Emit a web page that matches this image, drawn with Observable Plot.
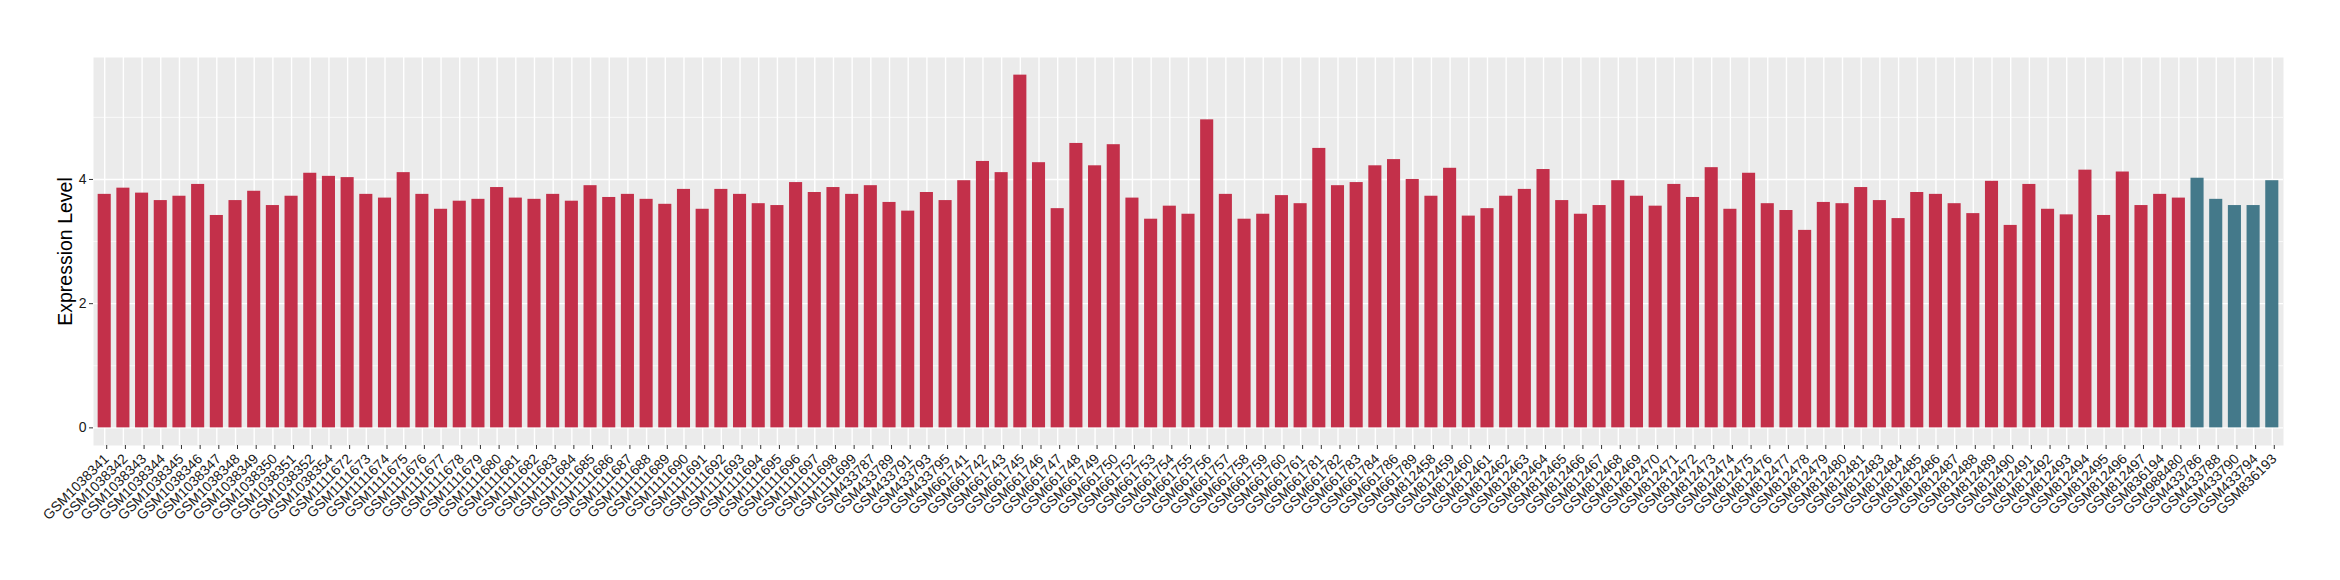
<!DOCTYPE html>
<html>
<head>
<meta charset="utf-8">
<script src="https://cdn.jsdelivr.net/npm/d3@7"></script>
<script src="https://cdn.jsdelivr.net/npm/@observablehq/plot@0.6"></script>
<style>
  html, body { margin: 0; padding: 0; background: #ffffff; }
  #chart { width: 2340px; height: 580px; }
  svg { display: block; }
</style>
</head>
<body>
<div id="chart"></div>
<script>
const samples = [
  "GSM1038341","GSM1038342","GSM1038343","GSM1038344","GSM1038345","GSM1038346","GSM1038347","GSM1038348","GSM1038349","GSM1038350",
  "GSM1038351","GSM1038352","GSM1038354","GSM1111672","GSM1111673","GSM1111674","GSM1111675","GSM1111676","GSM1111677","GSM1111678",
  "GSM1111679","GSM1111680","GSM1111681","GSM1111682","GSM1111683","GSM1111684","GSM1111685","GSM1111686","GSM1111687","GSM1111688",
  "GSM1111689","GSM1111690","GSM1111691","GSM1111692","GSM1111693","GSM1111694","GSM1111695","GSM1111696","GSM1111697","GSM1111698",
  "GSM1111699","GSM433787","GSM433789","GSM433791","GSM433793","GSM433795","GSM661741","GSM661742","GSM661743","GSM661745",
  "GSM661746","GSM661747","GSM661748","GSM661749","GSM661750","GSM661752","GSM661753","GSM661754","GSM661755","GSM661756",
  "GSM661757","GSM661758","GSM661759","GSM661760","GSM661761","GSM661781","GSM661782","GSM661783","GSM661784","GSM661786",
  "GSM661789","GSM812458","GSM812459","GSM812460","GSM812461","GSM812462","GSM812463","GSM812464","GSM812465","GSM812466",
  "GSM812467","GSM812468","GSM812469","GSM812470","GSM812471","GSM812472","GSM812473","GSM812474","GSM812475","GSM812476",
  "GSM812477","GSM812478","GSM812479","GSM812480","GSM812481","GSM812483","GSM812484","GSM812485","GSM812486","GSM812487",
  "GSM812488","GSM812489","GSM812490","GSM812491","GSM812492","GSM812493","GSM812494","GSM812495","GSM812496","GSM812497",
  "GSM836194","GSM988480","GSM433786","GSM433788","GSM433790","GSM433794","GSM836193"
];

const expression = [
  3.76,3.86,3.78,3.66,3.73,3.92,3.42,3.66,3.81,3.58,
  3.73,4.10,4.05,4.03,3.76,3.70,4.11,3.76,3.52,3.65,
  3.68,3.87,3.70,3.68,3.76,3.65,3.90,3.71,3.76,3.68,
  3.60,3.84,3.52,3.84,3.76,3.61,3.58,3.95,3.79,3.87,
  3.76,3.90,3.63,3.49,3.79,3.66,3.98,4.29,4.11,5.68,
  4.27,3.53,4.58,4.22,4.56,3.70,3.36,3.57,3.44,4.96,
  3.76,3.36,3.44,3.74,3.61,4.50,3.90,3.95,4.22,4.32,
  4.00,3.73,4.18,3.41,3.53,3.73,3.84,4.16,3.66,3.44,
  3.58,3.98,3.73,3.57,3.92,3.71,4.19,3.52,4.10,3.61,
  3.50,3.18,3.63,3.61,3.87,3.66,3.37,3.79,3.76,3.61,
  3.45,3.97,3.26,3.92,3.52,3.43,4.15,3.42,4.12,3.58,
  3.76,3.70,4.02,3.68,3.58,3.58,3.98
];

// samples drawn in the second (blue) colour
const secondGroupSamples = ["GSM433786","GSM433788","GSM433790","GSM433794","GSM836193"];

const groupNames = ["Group A", "Group B"];
const groupColors = ["#C3304A", "#44798A"];

const yTicks = [0, 2, 4];
const yMinorTicks = [1, 3, 5];
const yLabel = "Expression Level";

const data = samples.map((s, i) => ({
  sample: s,
  value: expression[i],
  group: secondGroupSamples.includes(s) ? groupNames[1] : groupNames[0]
}));

const maxVal = d3.max(expression);
const pad = maxVal * 0.05;

const font = "'Liberation Sans', Arial, Helvetica, sans-serif";

const chart = Plot.plot({
  width: 2340,
  height: 580,
  marginLeft: 93,
  marginRight: 57,
  marginTop: 57,
  marginBottom: 135,
  style: { fontFamily: font, background: "#ffffff", overflow: "visible" },
  x: { type: "band", domain: samples, paddingInner: 0.3, paddingOuter: 0.25, label: null },
  y: { domain: [-pad, maxVal + pad], label: null },
  color: { domain: groupNames, range: groupColors },
  marks: [
    Plot.frame({ fill: "#EBEBEB", stroke: null }),
    Plot.gridY(yMinorTicks, { stroke: "#ffffff", strokeOpacity: 1, strokeWidth: 0.7 }),
    Plot.gridY(yTicks, { stroke: "#ffffff", strokeOpacity: 1, strokeWidth: 1.4 }),
    Plot.gridX({ stroke: "#ffffff", strokeOpacity: 1, strokeWidth: 1.4 }),
    Plot.barY(data, { x: "sample", y: "value", fill: "group" }),
    Plot.axisY(yTicks, {
      tickSize: 4, tickPadding: 3, fontSize: 14, stroke: "#333333", fill: "#1a1a1a",
      tickFormat: d => String(d), label: null
    }),
    Plot.axisX({
      tickSize: 4, tickPadding: 7, dx: 2, fontSize: 14, tickRotate: -45, stroke: "#333333", fill: "#1a1a1a", label: null
    }),
    Plot.text([yLabel], {
      text: d => d, frameAnchor: "left", textAnchor: "middle", rotate: -90, dx: -28, fontSize: 19.5, fill: "#000000"
    })
  ]
});

document.getElementById("chart").appendChild(chart);
</script>
</body>
</html>
